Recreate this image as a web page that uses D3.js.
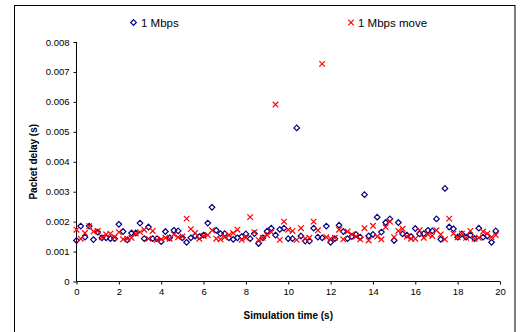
<!DOCTYPE html>
<html>
<head>
<meta charset="utf-8">
<script src="https://cdn.jsdelivr.net/npm/d3@7"></script>
<style>
  body { margin: 0; background: #fff; }
  text { font-family: "Liberation Sans", Arial, sans-serif; fill: #000; }
</style>
</head>
<body>
<div id="chart"></div>
<script>
// simulation time (s), one sample every 0.2 s
const times = [0, 0.2, 0.4, 0.6, 0.8, 1, 1.2, 1.4, 1.6, 1.8,
  2, 2.2, 2.4, 2.6, 2.8, 3, 3.2, 3.4, 3.6, 3.8,
  4, 4.2, 4.4, 4.6, 4.8, 5, 5.2, 5.4, 5.6, 5.8,
  6, 6.2, 6.4, 6.6, 6.8, 7, 7.2, 7.4, 7.6, 7.8,
  8, 8.2, 8.4, 8.6, 8.8, 9, 9.2, 9.4, 9.6, 9.8,
  10, 10.2, 10.4, 10.6, 10.8, 11, 11.2, 11.4, 11.6, 11.8,
  12, 12.2, 12.4, 12.6, 12.8, 13, 13.2, 13.4, 13.6, 13.8,
  14, 14.2, 14.4, 14.6, 14.8, 15, 15.2, 15.4, 15.6, 15.8,
  16, 16.2, 16.4, 16.6, 16.8, 17, 17.2, 17.4, 17.6, 17.8,
  18, 18.2, 18.4, 18.6, 18.8, 19, 19.2, 19.4, 19.6, 19.8];

// packet delay in ms (converted to s when plotted)
const delay1Mbps = [1.37, 1.85, 1.48, 1.85, 1.40, 1.65, 1.46, 1.46, 1.43, 1.43,
  1.91, 1.67, 1.39, 1.62, 1.62, 1.95, 1.43, 1.82, 1.43, 1.43,
  1.33, 1.67, 1.46, 1.71, 1.69, 1.46, 1.31, 1.46, 1.52, 1.50,
  1.55, 1.95, 2.48, 1.71, 1.60, 1.60, 1.46, 1.41, 1.46, 1.50,
  1.59, 1.43, 1.60, 1.27, 1.46, 1.68, 1.78, 1.55, 1.74, 1.78,
  1.43, 1.43, 5.13, 1.52, 1.35, 1.35, 1.78, 1.48, 1.46, 1.85,
  1.31, 1.43, 1.88, 1.67, 1.43, 1.50, 1.57, 1.48, 2.90, 1.52,
  1.57, 2.15, 1.65, 1.97, 2.09, 1.37, 1.97, 1.59, 1.55, 1.50,
  1.77, 1.59, 1.60, 1.71, 1.69, 2.09, 1.41, 3.11, 1.82, 1.76,
  1.48, 1.59, 1.48, 1.55, 1.43, 1.78, 1.48, 1.52, 1.31, 1.69];

const delay1MbpsMove = [1.73, 1.43, 1.62, 1.85, 1.67, 1.69, 1.48, 1.57, 1.60, 1.48,
  1.65, 1.41, 1.43, 1.46, 1.60, 1.65, 1.73, 1.43, 1.69, 1.39,
  1.41, 1.46, 1.43, 1.57, 1.48, 1.50, 2.10, 1.75, 1.62, 1.43,
  1.52, 1.55, 1.71, 1.43, 1.41, 1.48, 1.55, 1.62, 1.73, 1.39,
  1.46, 2.15, 1.65, 1.39, 1.46, 1.55, 1.65, 5.91, 1.39, 2.00,
  1.73, 1.69, 1.39, 1.78, 1.43, 1.46, 2.00, 1.71, 7.27, 1.48,
  1.43, 1.46, 1.73, 1.41, 1.67, 1.57, 1.50, 1.41, 1.78, 1.37,
  1.86, 1.50, 1.41, 1.82, 2.00, 1.48, 1.69, 1.76, 1.50, 1.43,
  1.43, 1.71, 1.46, 1.57, 1.52, 1.71, 1.57, 1.41, 2.10, 1.60,
  1.48, 1.60, 1.46, 1.69, 1.43, 1.46, 1.67, 1.60, 1.48, 1.55];

const xTicks = [0, 2, 4, 6, 8, 10, 12, 14, 16, 18, 20];
const yTicks = [0, 0.001, 0.002, 0.003, 0.004, 0.005, 0.006, 0.007, 0.008];

const width = 520, height = 332;
const margin = { top: 42, right: 20, bottom: 50, left: 76.5 };

const svg = d3.select('#chart')
  .append('svg')
  .attr('width', width)
  .attr('height', height);

// outer chart frame (bottom edge is cut off in the original)
svg.append('rect')
  .attr('x', 14.5).attr('y', 5.5)
  .attr('width', 500.5).attr('height', 340)
  .attr('fill', 'none').attr('stroke', '#000').attr('stroke-width', 1);

const x = d3.scaleLinear().domain([0, 20]).range([margin.left, 500]);
const y = d3.scaleLinear().domain([0, 0.008]).range([281.5, 42]);

// axes
svg.append('g')
  .attr('transform', `translate(0, ${y(0)})`)
  .call(d3.axisBottom(x).tickValues(xTicks).tickSize(3).tickPadding(4).tickFormat(d3.format('d')))
  .call(g => g.select('.domain').attr('d', `M${x(0)},0H${x(20)}`))
  .call(g => g.selectAll('text').attr('font-size', 9.5).attr('font-family', '"Liberation Sans", Arial, sans-serif'));

svg.append('g')
  .attr('transform', `translate(${x(0)}, 0)`)
  .call(d3.axisLeft(y).tickValues(yTicks).tickSize(3).tickPadding(4).tickFormat(d => d === 0 ? '0' : d3.format('.3f')(d)))
  .call(g => g.select('.domain').attr('d', `M0,${y(0)}V${y(0.008)}`))
  .call(g => g.selectAll('text').attr('font-size', 9.5).attr('font-family', '"Liberation Sans", Arial, sans-serif'));

// axis titles
svg.append('text')
  .attr('x', (x(0) + x(20)) / 2).attr('y', 319)
  .attr('text-anchor', 'middle')
  .attr('font-size', 10).attr('font-weight', 'bold')
  .text('Simulation time (s)');

svg.append('text')
  .attr('transform', `translate(37, ${(y(0) + y(0.008)) / 2}) rotate(-90)`)
  .attr('text-anchor', 'middle')
  .attr('font-size', 10).attr('font-weight', 'bold')
  .text('Packet delay (s)');

const diamond = 'M0,-2.8L2.8,0L0,2.8L-2.8,0Z';
const cross = 'M-2.8,-2.8L2.8,2.8M-2.8,2.8L2.8,-2.8';

const seriesA = times.map((t, i) => ({ t, v: delay1Mbps[i] / 1000 }));
const seriesB = times.map((t, i) => ({ t, v: delay1MbpsMove[i] / 1000 }));

svg.append('g').selectAll('path')
  .data(seriesA)
  .join('path')
  .attr('d', diamond)
  .attr('transform', d => `translate(${x(d.t)}, ${y(d.v)})`)
  .attr('fill', 'none').attr('stroke', '#000080').attr('stroke-width', 1.2);

svg.append('g').selectAll('path')
  .data(seriesB)
  .join('path')
  .attr('d', cross)
  .attr('transform', d => `translate(${x(d.t)}, ${y(d.v)})`)
  .attr('fill', 'none').attr('stroke', '#ff0000').attr('stroke-width', 1.2);

// legend
const legend = svg.append('g');
legend.append('path').attr('d', diamond)
  .attr('transform', 'translate(133.5, 22.5)')
  .attr('fill', 'none').attr('stroke', '#000080').attr('stroke-width', 1.2);
legend.append('text').attr('x', 141).attr('y', 26.5).attr('font-size', 11.5).text('1 Mbps');
legend.append('path').attr('d', cross)
  .attr('transform', 'translate(351, 22.5)')
  .attr('fill', 'none').attr('stroke', '#ff0000').attr('stroke-width', 1.2);
legend.append('text').attr('x', 358).attr('y', 26.5).attr('font-size', 11.5).text('1 Mbps move');
</script>
</body>
</html>
